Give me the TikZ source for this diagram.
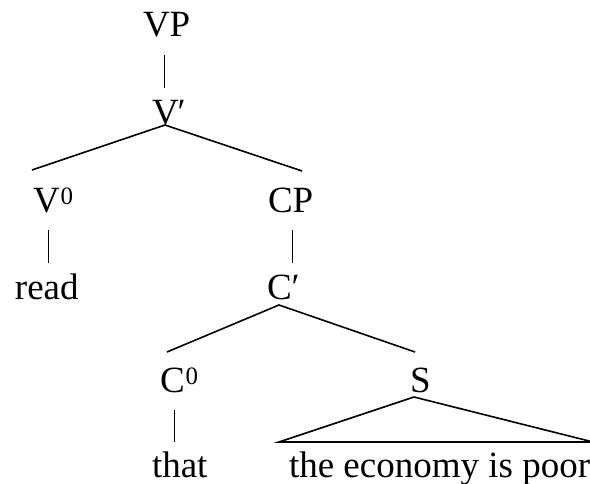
\documentclass[tikz,border=0pt]{standalone}
\usepackage{fontspec}
\setmainfont{Liberation Serif}
\usetikzlibrary{calc}
\newcommand{\supz}{\kern1pt\raisebox{8pt}{\fontsize{25}{25}\selectfont 0}}
\begin{document}
\begin{tikzpicture}[x=1pt,y=-1pt,
  lab/.style={inner sep=0pt,outer sep=0pt,anchor=base west,font=\fontsize{37}{44}\selectfont},
  branch/.style={line width=1.6pt,black},
  bar/.style={line width=0.9pt,black}]
\useasboundingbox (0,0) rectangle (590,484);
\node[lab] (VP) at (143,37) {VP};
\node[lab] (V1) at (152,125) {V\kern-1pt′};
\node[lab] (V0) at (33,213) {V\supz};
\node[lab] (CP) at (268,213) {CP};
\node[lab] (read) at (15,300) {read};
\node[lab] (C1) at (267,300) {C′};
\node[lab] (C0) at (160,392) {C\supz};
\node[lab] (S) at (410,392) {S};
\node[lab] (that) at (152,477) {that};
\node[lab] (sent) at (289,477) {the economy is poor};
% bars
\draw[bar] ($(VP.base west)+(21,18)$) -- ($(V1.base west)+(12,-37)$);
\draw[bar] ($(V0.base west)+(15,17)$) -- ($(read.base west)+(33,-37)$);
\draw[bar] ($(CP.base west)+(24,17)$) -- ($(C1.base west)+(25,-37)$);
\draw[bar] ($(C0.base west)+(14,18)$) -- ($(that.base west)+(22,-35)$);
% branches
\draw[branch] ($(V0.base west)+(-1,-43)$) -- ($(V1.base west)+(13,0)$) -- ($(CP.base west)+(34,-42)$);
\draw[branch] ($(C0.base west)+(7,-40)$) -- ($(C1.base west)+(12,5)$) -- ($(S.base west)+(5,-40)$);
\draw[branch,line join=miter] ($(sent.base west)+(-10,-35)$) -- ($(S.base west)+(4,5)$) -- ($(sent.base west)+(304,-35)$) -- cycle;
\end{tikzpicture}
\end{document}
